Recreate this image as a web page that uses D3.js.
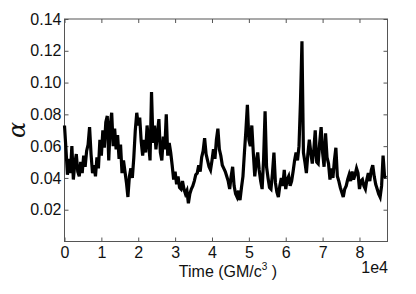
<!DOCTYPE html>
<html>
<head>
<meta charset="utf-8">
<script src="https://cdn.jsdelivr.net/npm/d3@7"></script>
<style>
  body { margin: 0; background: #fff; }
  svg { display: block; }
  .tick text { font-family: Arial, "Liberation Sans", sans-serif; font-size: 16px; fill: #111; }
</style>
</head>
<body>
<div id="chart"></div>
<script>
// sampled every 0.04 x 1e4 GM/c^3, starting at 0
const tStep = 0.04;
const alpha = [
  0.073, 0.058, 0.042, 0.052, 0.043, 0.060, 0.039, 0.049, 0.055, 0.044,
  0.041, 0.050, 0.043, 0.054, 0.047, 0.057, 0.061, 0.072, 0.055, 0.043,
  0.048, 0.041, 0.053, 0.046, 0.064, 0.054, 0.070, 0.059, 0.075, 0.079,
  0.051, 0.073, 0.081, 0.060, 0.071, 0.058, 0.067, 0.052, 0.061, 0.043,
  0.051, 0.044, 0.037, 0.028, 0.041, 0.046, 0.040, 0.053, 0.070, 0.081,
  0.073, 0.078, 0.063, 0.054, 0.064, 0.056, 0.073, 0.062, 0.051, 0.094,
  0.062, 0.073, 0.058, 0.068, 0.077, 0.056, 0.051, 0.066, 0.058, 0.080,
  0.054, 0.062, 0.056, 0.048, 0.039, 0.044, 0.036, 0.041, 0.034, 0.033,
  0.038, 0.033, 0.030, 0.032, 0.024, 0.030, 0.033, 0.035, 0.038, 0.042,
  0.043, 0.048, 0.044, 0.053, 0.057, 0.065, 0.055, 0.051, 0.047, 0.045,
  0.051, 0.058, 0.052, 0.064, 0.071, 0.058, 0.054, 0.048, 0.046, 0.044,
  0.041, 0.038, 0.033, 0.041, 0.047, 0.035, 0.030, 0.028, 0.032, 0.026,
  0.034, 0.041, 0.056, 0.070, 0.086, 0.064, 0.060, 0.073, 0.056, 0.041,
  0.050, 0.056, 0.045, 0.038, 0.033, 0.052, 0.082, 0.047, 0.040, 0.034,
  0.033, 0.043, 0.056, 0.037, 0.031, 0.028, 0.035, 0.040, 0.035, 0.045,
  0.033, 0.039, 0.041, 0.035, 0.038, 0.044, 0.051, 0.056, 0.051, 0.060,
  0.088, 0.126, 0.056, 0.050, 0.043, 0.055, 0.064, 0.056, 0.049, 0.057,
  0.070, 0.050, 0.049, 0.062, 0.072, 0.056, 0.047, 0.068, 0.053, 0.049,
  0.039, 0.046, 0.040, 0.051, 0.059, 0.041, 0.038, 0.034, 0.031, 0.028,
  0.033, 0.035, 0.039, 0.042, 0.038, 0.044, 0.039, 0.042, 0.046, 0.043,
  0.033, 0.038, 0.039, 0.035, 0.033, 0.039, 0.043, 0.038, 0.045, 0.048,
  0.041, 0.036, 0.033, 0.030, 0.028, 0.035, 0.054, 0.041, 0.040
];
const xTicks = [0, 1, 2, 3, 4, 5, 6, 7, 8];
const yTicks = [0.02, 0.04, 0.06, 0.08, 0.10, 0.12, 0.14];

const W = 416, H = 294;
const m = {left: 64.5, right: 28.5, top: 19, bottom: 52.5};

const svg = d3.select("#chart").append("svg")
  .attr("width", W)
  .attr("height", H);

const x = d3.scaleLinear().domain([0, 8.76]).range([m.left, W - m.right]);
const y = d3.scaleLinear().domain([0, 0.14]).range([H - m.bottom, m.top]);

const axisColor = "#555";

// bottom
svg.append("g")
  .attr("transform", "translate(0," + (H - m.bottom) + ")")
  .call(d3.axisBottom(x).tickValues(xTicks).tickFormat(d3.format("d")).tickSize(-4).tickSizeOuter(0).tickPadding(5));
// top
svg.append("g")
  .attr("transform", "translate(0," + m.top + ")")
  .call(d3.axisTop(x).tickValues(xTicks).tickFormat("").tickSize(-4).tickSizeOuter(0));
// left
svg.append("g")
  .attr("transform", "translate(" + m.left + ",0)")
  .call(d3.axisLeft(y).tickValues(yTicks).tickFormat(d3.format(".2f")).tickSize(-4).tickSizeOuter(0).tickPadding(3));
// right
svg.append("g")
  .attr("transform", "translate(" + (W - m.right) + ",0)")
  .call(d3.axisRight(y).tickValues(yTicks).tickFormat("").tickSize(-4).tickSizeOuter(0));

svg.selectAll(".domain").remove();
svg.selectAll(".tick line").attr("stroke", axisColor);

svg.append("rect")
  .attr("x", m.left)
  .attr("y", m.top)
  .attr("width", W - m.right - m.left)
  .attr("height", H - m.bottom - m.top)
  .attr("fill", "none")
  .attr("stroke", axisColor);

svg.append("path")
  .datum(alpha)
  .attr("fill", "none")
  .attr("stroke", "#000")
  .attr("stroke-width", 3.2)
  .attr("d", d3.line().x((d, i) => x(i * tStep)).y(d => y(d)));

// x label
const xl = svg.append("text")
  .attr("x", 228)
  .attr("y", 277)
  .attr("text-anchor", "middle")
  .attr("font-family", "Arial, 'Liberation Sans', sans-serif")
  .attr("font-size", 16)
  .attr("fill", "#111");
xl.append("tspan").text("Time (GM/c");
xl.append("tspan").attr("font-size", 10).attr("dy", -7).text("3");
xl.append("tspan").attr("dy", 7).text(" )");

svg.append("text")
  .attr("x", W - m.right + 0.5)
  .attr("y", 273)
  .attr("text-anchor", "end")
  .attr("font-family", "Arial, 'Liberation Sans', sans-serif")
  .attr("font-size", 16)
  .attr("fill", "#111")
  .text("1e4");

// y label
svg.append("text")
  .attr("transform", "translate(25,130) rotate(-90)")
  .attr("text-anchor", "middle")
  .attr("font-family", "'DejaVu Serif', serif")
  .attr("font-style", "italic")
  .attr("font-size", 24)
  .attr("fill", "#111")
  .text("α");
</script>
</body>
</html>
